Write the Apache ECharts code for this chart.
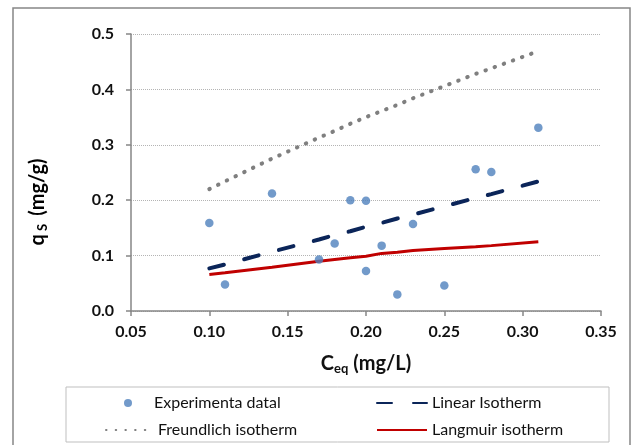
<!DOCTYPE html>
<html>
<head>
<meta charset="utf-8">
<script src="https://cdn.jsdelivr.net/npm/echarts@6/dist/echarts.min.js"></script>
<style>
  html, body { margin: 0; padding: 0; background: #fff; }
  #chart { width: 632px; height: 445px; }
</style>
</head>
<body>
<div id="chart"></div>
<script>
// concentrations for the measured points
var expX = [0.10, 0.11, 0.14, 0.17, 0.18, 0.19, 0.20, 0.20, 0.21, 0.22, 0.23, 0.25, 0.27, 0.28, 0.31];
var expY = [0.159, 0.048, 0.212, 0.093, 0.122, 0.200, 0.199, 0.072, 0.118, 0.030, 0.157, 0.046, 0.256, 0.251, 0.331];

// model curves, read at the same concentrations
var modelX = [0.10, 0.11, 0.14, 0.17, 0.18, 0.19, 0.20, 0.21, 0.22, 0.23, 0.25, 0.27, 0.28, 0.31];
var linearY = [0.077, 0.084, 0.107, 0.129, 0.137, 0.144, 0.152, 0.159, 0.167, 0.174, 0.189, 0.204, 0.211, 0.234];
var freundlichY = [0.220, 0.234, 0.275, 0.313, 0.325, 0.338, 0.350, 0.361, 0.372, 0.384, 0.406, 0.428, 0.438, 0.469];
var langmuirY = [0.066, 0.069, 0.079, 0.090, 0.093, 0.096, 0.099, 0.104, 0.106, 0.109, 0.113, 0.116, 0.118, 0.125];

var seriesNames = ['Experimenta datal', 'Linear Isotherm', 'Freundlich isotherm', 'Langmuir isotherm'];

function pairs(xs, ys) {
  return xs.map(function (x, i) { return [x, ys[i]]; });
}

var FONT = 'Lato, "Open Sans", sans-serif';
var AXIS_GREY = '#868686';

var chart = echarts.init(document.getElementById('chart'));

var legendText = { fontFamily: FONT, fontSize: 16, color: '#111' };
// line legends: hide the marker dot, keep only the line sample
var lineLegend = { selectedMode: false, itemHeight: 10, textStyle: legendText, itemStyle: { opacity: 0 } };

var titleRich = {
  b: { fontFamily: FONT, fontSize: 20, fontWeight: 'bold', color: '#111' },
  sub: { fontFamily: FONT, fontSize: 13, fontWeight: 'bold', color: '#111', verticalAlign: 'bottom', padding: [9, 0, 0, 0] }
};

var option = {
  animation: false,
  backgroundColor: '#fff',
  grid: { left: 131, right: 31, top: 34, bottom: 134 },
  xAxis: {
    type: 'value',
    min: 0.05, max: 0.35, interval: 0.05,
    axisLine: { lineStyle: { color: AXIS_GREY, width: 1.5 } },
    axisTick: { show: true, length: 5, lineStyle: { color: AXIS_GREY, width: 1.5 } },
    splitLine: { show: false },
    axisLabel: {
      margin: 13, fontFamily: FONT, fontSize: 16, fontWeight: 'bold', color: '#111',
      formatter: function (v) { return v.toFixed(2); }
    },
    name: '{b|C}{sub|eq}{b| (mg/L)}',
    nameLocation: 'middle',
    nameGap: 42,
    nameTextStyle: { rich: titleRich }
  },
  yAxis: {
    type: 'value',
    min: 0, max: 0.5, interval: 0.1,
    axisLine: { show: true, lineStyle: { color: AXIS_GREY, width: 1.5 } },
    axisTick: { show: true, length: 5, lineStyle: { color: AXIS_GREY, width: 1.5 } },
    splitLine: { show: true, lineStyle: { color: '#b4b4b4', type: 'dotted', width: 1 } },
    axisLabel: {
      margin: 17, fontFamily: FONT, fontSize: 16, fontWeight: 'bold', color: '#111',
      formatter: function (v) { return v.toFixed(1); }
    }
  },
  legend: [
    {
      data: [{ name: seriesNames[0], icon: 'circle' }], left: 119, top: 390, itemWidth: 8, itemHeight: 8,
      selectedMode: false, textStyle: Object.assign({ padding: [0, 0, 0, 17] }, legendText)
    },
    Object.assign({ data: [seriesNames[2]], left: 100, top: 417, itemWidth: 47 }, lineLegend),
    Object.assign({ data: [seriesNames[1]], left: 371, top: 390, itemWidth: 50 }, lineLegend),
    Object.assign({ data: [seriesNames[3]], left: 371, top: 417, itemWidth: 50 }, lineLegend)
  ],
  graphic: [
    { type: 'rect', shape: { x: 13, y: 8, width: 617, height: 460 }, style: { fill: 'none', stroke: AXIS_GREY, lineWidth: 1.5 }, silent: true, z: -1 },
    { type: 'rect', shape: { x: 66, y: 387, width: 543, height: 55 }, style: { fill: 'none', stroke: '#bfbfbf', lineWidth: 1 }, silent: true },
    // y axis title, placed where the original sits (a bit below the axis middle)
    {
      type: 'text', x: 38, y: 202, rotation: Math.PI / 2, silent: true,
      style: { text: '{b|q}{sub| S }{b| (mg/g)}', rich: titleRich, align: 'center', verticalAlign: 'middle' }
    }
  ],
  series: [
    {
      name: seriesNames[2], type: 'line', data: pairs(modelX, freundlichY),
      symbol: 'none', z: 2,
      lineStyle: { color: '#7f7f7f', width: 4, type: [0.5, 9.2], cap: 'round' },
      itemStyle: { color: '#7f7f7f' }
    },
    {
      name: seriesNames[1], type: 'line', data: pairs(modelX, linearY),
      symbol: 'none', z: 3,
      lineStyle: { color: '#0b2559', width: 4, type: [15, 21], cap: 'round' },
      itemStyle: { color: '#0b2559' }
    },
    {
      name: seriesNames[3], type: 'line', data: pairs(modelX, langmuirY),
      symbol: 'none', z: 3,
      lineStyle: { color: '#c00000', width: 3 },
      itemStyle: { color: '#c00000' }
    },
    {
      name: seriesNames[0], type: 'scatter', data: pairs(expX, expY),
      symbol: 'circle', symbolSize: 8.5, z: 5,
      itemStyle: { color: '#4f81bd' }
    }
  ]
};

chart.setOption(option);
</script>
</body>
</html>
